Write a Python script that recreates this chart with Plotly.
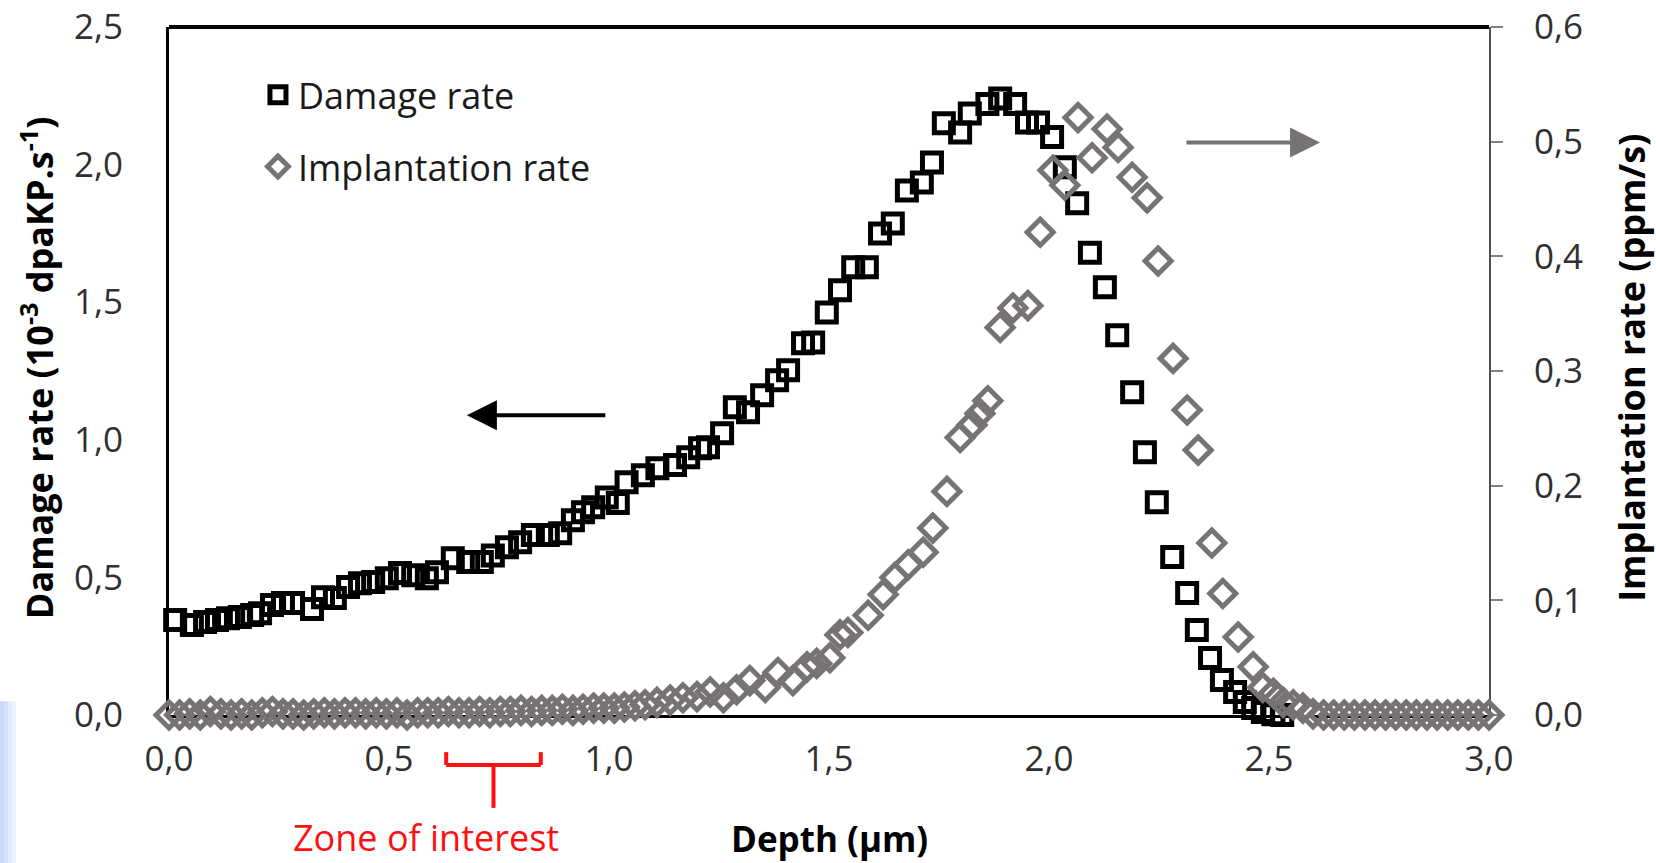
import plotly.graph_objects as go

# ---------------- data ----------------
depth_damage = [0.014, 0.052, 0.082, 0.109, 0.134, 0.161, 0.189, 0.207, 0.234, 0.259,
                0.282, 0.325, 0.350, 0.377, 0.407, 0.434, 0.464, 0.495, 0.525, 0.555,
                0.586, 0.609, 0.645, 0.680, 0.711, 0.736, 0.768, 0.798, 0.827, 0.861,
                0.889, 0.918, 0.941, 0.964, 0.995, 1.020, 1.040, 1.077, 1.110, 1.150,
                1.180, 1.207, 1.225, 1.257, 1.286, 1.316, 1.348, 1.382, 1.407, 1.441,
                1.464, 1.495, 1.525, 1.555, 1.586, 1.616, 1.645, 1.677, 1.711, 1.734,
                1.761, 1.798, 1.820, 1.860, 1.889, 1.923, 1.950, 1.975, 2.007, 2.036,
                2.064, 2.093, 2.127, 2.155, 2.189, 2.218, 2.245, 2.280, 2.314, 2.336,
                2.366, 2.393, 2.423, 2.445, 2.464, 2.486, 2.510, 2.530]
damage_rate = [0.345, 0.327, 0.338, 0.345, 0.352, 0.356, 0.363, 0.370, 0.400, 0.407,
               0.407, 0.385, 0.428, 0.425, 0.465, 0.479, 0.483, 0.497, 0.516, 0.508,
               0.497, 0.519, 0.570, 0.556, 0.556, 0.580, 0.610, 0.628, 0.654, 0.654,
               0.660, 0.708, 0.737, 0.755, 0.790, 0.770, 0.846, 0.871, 0.897, 0.908,
               0.937, 0.969, 0.973, 1.024, 1.118, 1.100, 1.162, 1.216, 1.253, 1.351,
               1.354, 1.463, 1.543, 1.627, 1.627, 1.750, 1.786, 1.906, 1.935, 2.008,
               2.150, 2.117, 2.186, 2.220, 2.240, 2.220, 2.153, 2.153, 2.100, 1.990,
               1.860, 1.680, 1.554, 1.380, 1.173, 0.955, 0.773, 0.574, 0.443, 0.309,
               0.207, 0.127, 0.084, 0.047, 0.025, 0.011, 0.003, 0.000]

depth_impl = [0.000, 0.024, 0.047, 0.071, 0.094, 0.118, 0.141, 0.165, 0.188, 0.212,
              0.235, 0.259, 0.282, 0.306, 0.329, 0.353, 0.376, 0.400, 0.424, 0.447,
              0.471, 0.494, 0.518, 0.541, 0.565, 0.588, 0.612, 0.635, 0.659, 0.682,
              0.706, 0.729, 0.753, 0.776, 0.800, 0.824, 0.847, 0.871, 0.894, 0.918,
              0.941, 0.965, 0.988, 1.012, 1.035, 1.059, 1.082, 1.109, 1.139, 1.168,
              1.200, 1.230, 1.260, 1.290, 1.320, 1.355, 1.384, 1.418, 1.450, 1.472,
              1.502, 1.525, 1.543, 1.589, 1.623, 1.650, 1.680, 1.714, 1.736, 1.768,
              1.798, 1.825, 1.843, 1.861, 1.889, 1.918, 1.952, 1.980, 2.009, 2.036,
              2.066, 2.098, 2.132, 2.157, 2.189, 2.223, 2.248, 2.282, 2.314, 2.339,
              2.370, 2.395, 2.430, 2.464, 2.486, 2.510, 2.532, 2.555, 2.577, 2.600,
              2.624, 2.647, 2.671, 2.694, 2.718, 2.741, 2.765, 2.788, 2.812, 2.835,
              2.859, 2.882, 2.906, 2.929, 2.953, 2.976, 3.000]
impl_rate = [0.000, 0.000, 0.001, 0.000, 0.003, 0.001, 0.000, 0.001, 0.000, 0.002,
             0.003, 0.001, 0.001, 0.000, 0.001, 0.002, 0.001, 0.002, 0.002, 0.001,
             0.002, 0.001, 0.002, 0.000, 0.002, 0.002, 0.002, 0.003, 0.002, 0.002,
             0.003, 0.002, 0.003, 0.003, 0.004, 0.003, 0.004, 0.004, 0.005, 0.004,
             0.005, 0.006, 0.006, 0.006, 0.007, 0.008, 0.009, 0.011, 0.013, 0.015,
             0.016, 0.020, 0.015, 0.022, 0.030, 0.024, 0.037, 0.030, 0.042, 0.045,
             0.050, 0.070, 0.072, 0.087, 0.105, 0.120, 0.131, 0.142, 0.163, 0.195,
             0.242, 0.253, 0.263, 0.274, 0.338, 0.355, 0.357, 0.421, 0.475, 0.462,
             0.521, 0.486, 0.511, 0.495, 0.469, 0.451, 0.396, 0.311, 0.266, 0.231,
             0.150, 0.106, 0.068, 0.042, 0.024, 0.019, 0.011, 0.009, 0.006, 0.001,
             0.000, 0.000, 0.000, 0.000, 0.000, 0.000, 0.000, 0.000, 0.000, 0.000,
             0.000, 0.000, 0.000, 0.000, 0.000, 0.000, 0.000]

x_ticks = [0.0, 0.5, 1.0, 1.5, 2.0, 2.5, 3.0]
y_left_ticks = [0.0, 0.5, 1.0, 1.5, 2.0, 2.5]
y_right_ticks = [0.0, 0.1, 0.2, 0.3, 0.4, 0.5, 0.6]

zone_of_interest = [0.63, 0.845]   # depth range marked by the red bracket

GREY = "#777373"
FONT = "Open Sans"
TICK_COLOR = "#303030"

fig = go.Figure()
fig.add_trace(go.Scatter(
    x=depth_damage, y=damage_rate, mode="markers", name="Damage rate",
    legendgroup="a", cliponaxis=False,
    marker=dict(symbol="square-open", size=19, color="black",
                line=dict(width=5, color="black")),
))
fig.add_trace(go.Scatter(
    x=depth_impl, y=impl_rate, mode="markers", name="Implantation rate",
    legendgroup="b", yaxis="y2", cliponaxis=False,
    marker=dict(symbol="diamond-open", size=20, color=GREY,
                line=dict(width=5, color=GREY)),
))

fig.update_layout(
    width=1656, height=863,
    margin=dict(l=169, r=167, t=27, b=148, autoexpand=False),
    paper_bgcolor="white", plot_bgcolor="white",
    separators=",.",
    font=dict(family=FONT, size=35, color=TICK_COLOR),
    showlegend=True,
    legend=dict(x=0.0674, y=0.945, xanchor="left", yanchor="top",
                bgcolor="rgba(0,0,0,0)", borderwidth=0,
                font=dict(family=FONT, size=36, color="#1a1a1a"),
                tracegroupgap=22),
    xaxis=dict(range=[0, 3], tickvals=x_ticks, tickformat=".1f", automargin=False,
               showline=True, linecolor="black", linewidth=3, layer="below traces",
               ticks="", showgrid=False, zeroline=False, ticklabelstandoff=11,
               tickfont=dict(family=FONT, size=35, color=TICK_COLOR)),
    yaxis=dict(range=[0, 2.5], tickvals=y_left_ticks, tickformat=".1f", automargin=False,
               showline=True, linecolor="black", linewidth=3, layer="below traces",
               ticks="", showgrid=False, zeroline=False, ticklabelstandoff=36,
               tickfont=dict(family=FONT, size=35, color=TICK_COLOR)),
    yaxis2=dict(range=[0, 0.6], tickvals=y_right_ticks, tickformat=".1f", automargin=False,
                overlaying="y", side="right",
                showline=True, linecolor="#505050", linewidth=2, layer="below traces",
                ticks="outside", ticklen=12, tickwidth=2, tickcolor="#808080",
                showgrid=False, zeroline=False, ticklabelstandoff=24,
                tickfont=dict(family=FONT, size=35, color=TICK_COLOR)),
)

# top border of the plot frame
fig.add_shape(type="line", xref="paper", yref="paper", x0=0, x1=1, y0=1, y1=1,
              line=dict(color="black", width=4))

# axis titles
fig.add_annotation(xref="paper", yref="paper", x=-0.1, y=0.504,
                   text="<b>Damage rate (10<sup>-3</sup> dpaKP.s<sup>-1</sup>)</b>",
                   textangle=-90, showarrow=False, xanchor="center", yanchor="middle",
                   font=dict(family=FONT, size=36, color="black"))
fig.add_annotation(xref="paper", yref="paper", x=1.108, y=0.504,
                   text="<b>Implantation rate (ppm/s)</b>",
                   textangle=-90, showarrow=False, xanchor="center", yanchor="middle",
                   font=dict(family=FONT, size=36, color="black"))
fig.add_annotation(xref="paper", yref="paper", x=0.5, y=-0.18,
                   text="<b>Depth (µm)</b>", showarrow=False,
                   xanchor="center", yanchor="middle",
                   font=dict(family=FONT, size=35, color="black"))

# direction arrows
fig.add_annotation(xref="x", yref="y", x=0.677, y=1.089, ax=0.995, ay=1.089,
                   axref="x", ayref="y", text="", showarrow=True,
                   arrowhead=2, arrowsize=1.5, arrowwidth=4, arrowcolor="black", standoff=0)
fig.add_annotation(xref="x", yref="y", x=2.616, y=2.08, ax=2.309, ay=2.08,
                   axref="x", ayref="y", text="", showarrow=True,
                   arrowhead=2, arrowsize=1.5, arrowwidth=4, arrowcolor=GREY, standoff=0)

# zone of interest bracket
z0, z1 = zone_of_interest
zm = (z0 + z1) / 2
RED = "#ff1010"
for (xa, ya, xb, yb) in [(z0, -0.054, z0, -0.0727), (z0, -0.0727, z1, -0.0727),
                         (z1, -0.0727, z1, -0.054), (zm, -0.0727, zm, -0.135)]:
    fig.add_shape(type="line", xref="x", yref="paper", x0=xa, y0=ya, x1=xb, y1=yb,
                  line=dict(color=RED, width=4))
fig.add_annotation(xref="x", yref="paper", x=0.585, y=-0.178,
                   text="Zone of interest", showarrow=False,
                   xanchor="center", yanchor="middle",
                   font=dict(family=FONT, size=36, color=RED))

# light blue slide background strip at the bottom-left
for i, col in enumerate(["#c6d9f6", "#d3e2f8", "#e0eafa", "#eef4fd"]):
    fig.add_shape(type="rect", xref="paper", yref="paper",
                  x0=(-169 + 4 * i) / 1320, x1=(-169 + 4 * (i + 1)) / 1320,
                  y0=-0.216, y1=0.02, line=dict(width=0), fillcolor=col, layer="below")

fig.write_html("out.html")
